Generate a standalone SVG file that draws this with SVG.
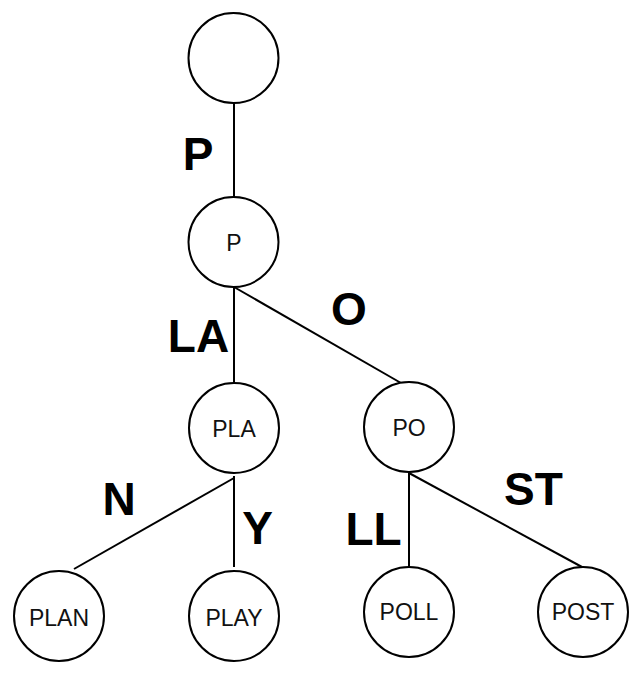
<svg xmlns="http://www.w3.org/2000/svg" width="637" height="674" viewBox="0 0 637 674">
<style>
.node circle{fill:#fff;stroke:#000;stroke-width:2}
.node text{font-family:"Liberation Sans",Arial,sans-serif;font-size:23px;font-weight:300;text-anchor:middle;fill:#111}
.edges line{stroke:#000;stroke-width:2}
.lbl{font-family:"Liberation Sans",Arial,sans-serif;font-size:46px;font-weight:bold;text-anchor:middle;fill:#000}
</style>
<rect width="637" height="674" fill="#fff"/>
<g id="edges" class="edges">
<line x1="234" y1="103" x2="234" y2="197"/>
<line x1="234" y1="287" x2="234" y2="383"/>
<line x1="234" y1="287" x2="401" y2="383"/>
<line x1="234" y1="478" x2="74" y2="569"/>
<line x1="234" y1="476" x2="234" y2="567"/>
<line x1="409" y1="473" x2="409" y2="566"/>
<line x1="409" y1="473" x2="582" y2="567"/>
</g>
<g id="edge-labels">
<text class="lbl" x="198" y="170">P</text>
<text class="lbl" x="198.5" y="352">LA</text>
<text class="lbl" x="349" y="325">O</text>
<text class="lbl" x="119" y="515">N</text>
<text class="lbl" x="257.5" y="544">Y</text>
<text class="lbl" x="373.5" y="545">LL</text>
<text class="lbl" x="533.5" y="505">ST</text>
</g>
<g id="root" class="node"><circle cx="233.5" cy="58" r="45"/></g>
<g id="n-P" class="node"><circle cx="233.5" cy="242" r="45"/><text x="234" y="251">P</text></g>
<g id="n-PLA" class="node"><circle cx="234" cy="428" r="45"/><text x="234" y="437">PLA</text></g>
<g id="n-PO" class="node"><circle cx="409" cy="427" r="45"/><text x="409" y="436">PO</text></g>
<g id="n-PLAN" class="node"><circle cx="59" cy="616" r="45"/><text x="59" y="626">PLAN</text></g>
<g id="n-PLAY" class="node"><circle cx="234" cy="616" r="45"/><text x="234" y="626">PLAY</text></g>
<g id="n-POLL" class="node"><circle cx="409" cy="612" r="45"/><text x="409" y="620">POLL</text></g>
<g id="n-POST" class="node"><circle cx="583" cy="612" r="45"/><text x="583" y="620">POST</text></g>
</svg>
